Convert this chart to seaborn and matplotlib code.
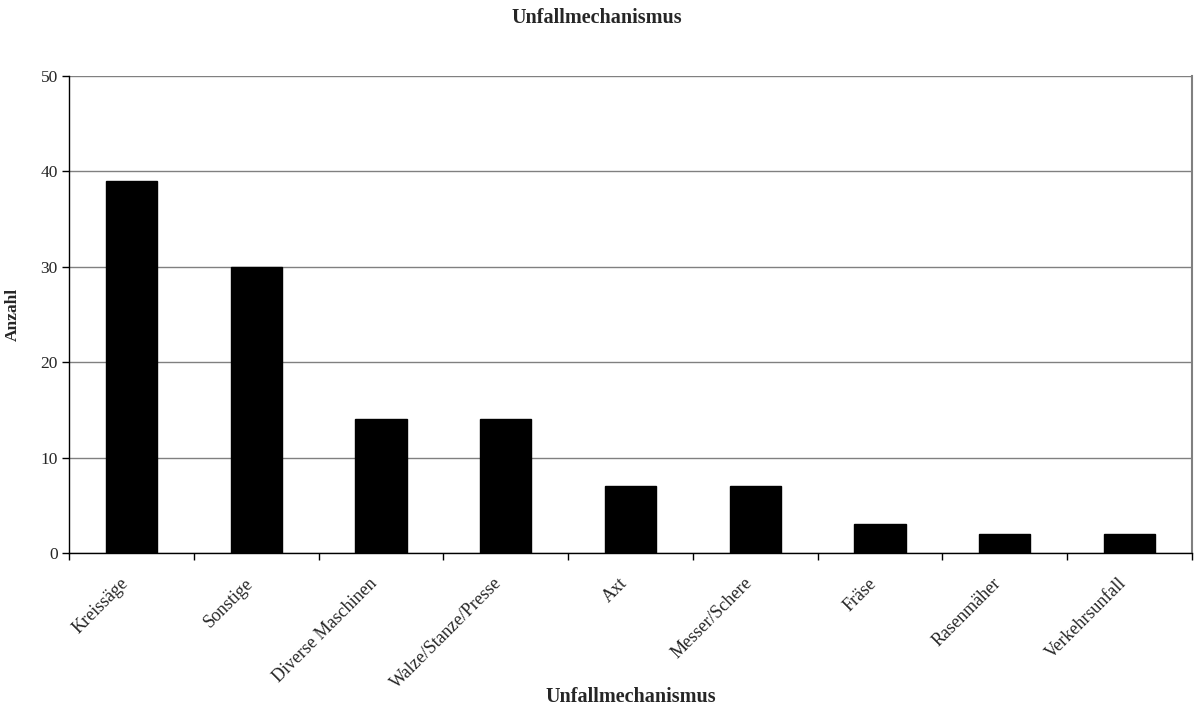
import matplotlib
matplotlib.use("Agg")
import matplotlib.pyplot as plt
import matplotlib.transforms as mtransforms
import seaborn as sns
import pandas as pd
from matplotlib.ticker import FixedLocator

categories = ["Kreissäge", "Sonstige", "Diverse Maschinen", "Walze/Stanze/Presse",
              "Axt", "Messer/Schere", "Fräse", "Rasenmäher", "Verkehrsunfall"]
values = [39, 30, 14, 14, 7, 7, 3, 2, 2]
yticks = [0, 10, 20, 30, 40, 50]

sns.set_style("white")
plt.rcParams['font.family'] = ['Liberation Serif', 'DejaVu Serif']

df = pd.DataFrame({"cat": categories, "val": values})
fig = plt.figure(figsize=(11.94, 7.15), dpi=100)
ax = fig.add_axes([0.0578, 0.2266, 0.9405, 0.6671])

sns.barplot(data=df, x="cat", y="val", color="black", width=0.41,
            saturation=1, ax=ax, edgecolor="black")

ax.set_xlim(-0.5, len(categories) - 0.5)
ax.set_ylim(0, 50)
ax.set_yticks(yticks)
ax.yaxis.grid(True, color="#808080", linewidth=1)
ax.set_axisbelow(True)

for s in ["left", "bottom"]:
    ax.spines[s].set_color("black")
    ax.spines[s].set_linewidth(1)
ax.spines["top"].set_visible(False)
ax.spines["right"].set_color("#808080")
ax.spines["right"].set_linewidth(1.5)

ax.tick_params(axis="y", direction="out", length=5, width=1, color="black",
               labelsize=12.5, left=True, pad=3)
ax.set_xticks(range(len(categories)))
ax.set_xticklabels(categories, rotation=45, ha="right", va="center",
                   rotation_mode="anchor", fontsize=13)
ax.tick_params(axis="x", length=0, pad=20)
offset = mtransforms.ScaledTranslation(-6 / 100, 0, fig.dpi_scale_trans)
for lab in ax.get_xticklabels():
    lab.set_transform(lab.get_transform() + offset)
ax.xaxis.set_minor_locator(FixedLocator([i - 0.5 for i in range(len(categories) + 1)]))
ax.tick_params(axis="x", which="minor", direction="out", length=5, width=1,
               color="black", bottom=True)

ax.set_ylabel("Anzahl", fontsize=12.5, fontweight="bold")
ax.yaxis.set_label_coords(-0.043, 0.5)
ax.set_xlabel("Unfallmechanismus", fontsize=14.5, fontweight="bold", va="top")
ax.xaxis.set_label_coords(0.5, -0.280)
fig.text(0.5, 1 - 8 / 715, "Unfallmechanismus", fontsize=14.5, fontweight="bold",
         ha="center", va="top")

fig.savefig("out.png", dpi=100)
